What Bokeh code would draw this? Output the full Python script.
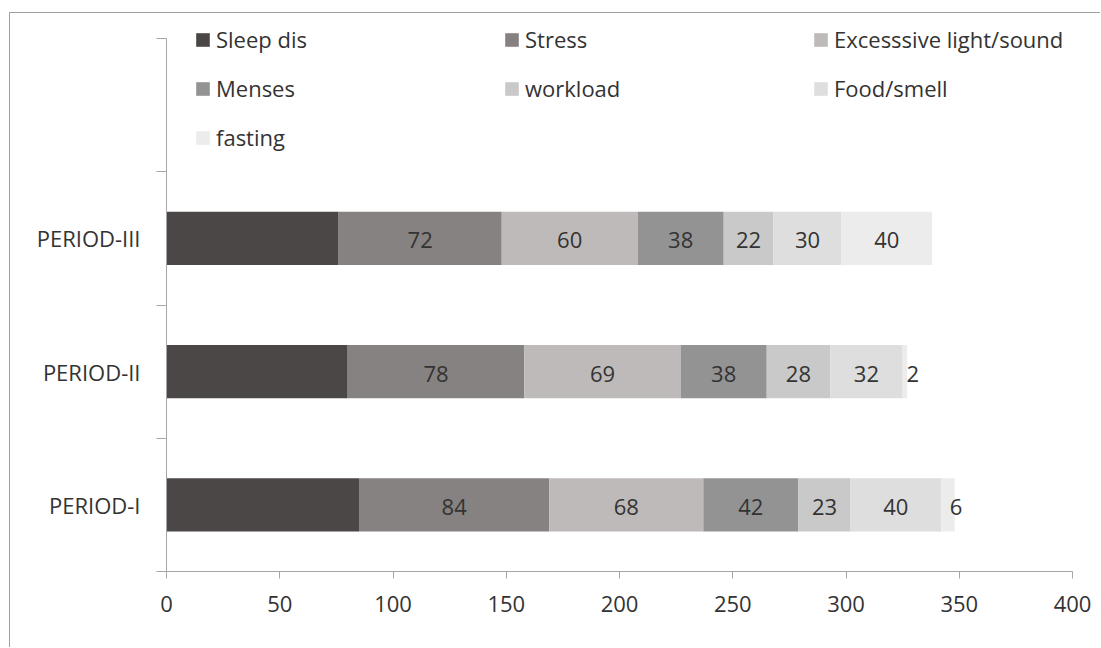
from bokeh.plotting import figure
from bokeh.models import Range1d, FixedTicker, Legend, LegendItem, ColumnDataSource
from bokeh.embed import file_html
from bokeh.resources import INLINE
from bokeh.core.properties import value

# ---- data ----
periods = ["PERIOD-I", "PERIOD-II", "PERIOD-III"]
series_names = ["Sleep dis", "Stress", "Excesssive light/sound", "Menses",
                "workload", "Food/smell", "fasting"]
sleep_dis = [85, 80, 76]
stress = [84, 78, 72]
light_sound = [68, 69, 60]
menses = [42, 38, 38]
workload = [23, 28, 22]
food_smell = [40, 32, 30]
fasting = [6, 2, 40]
x_ticks = [0, 50, 100, 150, 200, 250, 300, 350, 400]

series_values = [sleep_dis, stress, light_sound, menses, workload, food_smell, fasting]
colors = ["#4b4746", "#868281", "#bebab9", "#939393", "#c9c9c9", "#dedede", "#ececec"]
show_labels = [False, True, True, True, True, True, True]

FONT = "Open Sans"
TXT = "#333333"
AXC = "#a6a6a6"
FS = "22px"

ys = [i + 0.5 for i in range(len(periods))]
n_slots = len(periods) + 1
slot_px = 533 / n_slots
y_top = n_slots + 25 / slot_px

p = figure(width=1091, height=635, output_backend="svg", toolbar_location=None,
           x_range=Range1d(0, 400), y_range=Range1d(0, y_top),
           min_border_left=156, min_border_right=29, min_border_top=0, min_border_bottom=77)
p.styles = {"margin-left": "9px", "margin-top": "12px",
            "border-left": "1px solid #a0a0a0", "border-top": "1px solid #a0a0a0"}
p.outline_line_color = None
p.xgrid.visible = False
p.ygrid.visible = False
p.background_fill_color = "white"
p.border_fill_color = "white"

renderers = []
left = [0] * len(periods)
label_x, label_y, label_t, label_off = [], [], [], []
for name, vals, col, show in zip(series_names, series_values, colors, show_labels):
    right = [l + v for l, v in zip(left, vals)]
    src = ColumnDataSource(dict(y=ys, left=left, right=right))
    r = p.hbar(y="y", left="left", right="right", height=0.4, source=src,
               fill_color=col, line_color=None)
    renderers.append((name, r))
    if show:
        for l, v, y in zip(left, vals, ys):
            label_x.append(l + v / 2)
            label_y.append(y)
            label_t.append(str(v))
            label_off.append(8 if v < 10 else 0)
    left = right

lab_src = ColumnDataSource(dict(x=label_x, y=label_y, text=label_t, off=label_off))
p.text(x="x", y="y", text="text", x_offset="off", y_offset=2, source=lab_src,
       text_font=value(FONT), text_font_size=FS, text_color=TXT,
       text_align="center", text_baseline="middle")

# axes
xa = p.xaxis[0]
xa.ticker = FixedTicker(ticks=x_ticks)
xa.axis_line_color = AXC
xa.major_tick_line_color = AXC
xa.major_tick_in = 0
xa.major_tick_out = 7
xa.minor_tick_line_color = None
xa.major_label_text_font = FONT
xa.major_label_text_font_size = FS
xa.major_label_text_color = TXT
xa.major_label_standoff = 17

ya = p.yaxis[0]
ya.bounds = (0, n_slots)
ya.ticker = FixedTicker(ticks=ys, minor_ticks=list(range(n_slots + 1)))
ya.major_label_overrides = {y: name for y, name in zip(ys, periods)}
ya.axis_line_color = AXC
ya.major_tick_line_color = None
ya.major_tick_in = 0
ya.major_tick_out = 0
ya.minor_tick_line_color = AXC
ya.minor_tick_in = 0
ya.minor_tick_out = 10
ya.major_label_text_font = FONT
ya.major_label_text_font_size = FS
ya.major_label_text_color = TXT
ya.major_label_standoff = 16

# legend: three columns
rmap = dict(renderers)
columns = [
    (["Sleep dis", "Menses", "fasting"], 28, 3),
    (["Stress", "workload"], 337, 1),
    (["Excesssive light/sound", "Food/smell"], 646, 1),
]
ITEM_H = 28
GAP = 19
for names, xpos, dy in columns:
    n = len(names)
    height = n * ITEM_H + (n - 1) * GAP
    bottom_screen = 27 + dy + height
    leg = Legend(items=[LegendItem(label=nm, renderers=[rmap[nm]]) for nm in names],
                 location=(xpos, 571 - bottom_screen),
                 orientation="vertical", glyph_width=17, glyph_height=17,
                 label_standoff=5, label_height=22, spacing=GAP, padding=0, margin=0,
                 border_line_color=None, background_fill_alpha=0,
                 label_text_font=FONT, label_text_font_size=FS,
                 label_text_color=TXT)
    p.add_layout(leg, "center")

open("out.html", "w").write(file_html(p, INLINE))
